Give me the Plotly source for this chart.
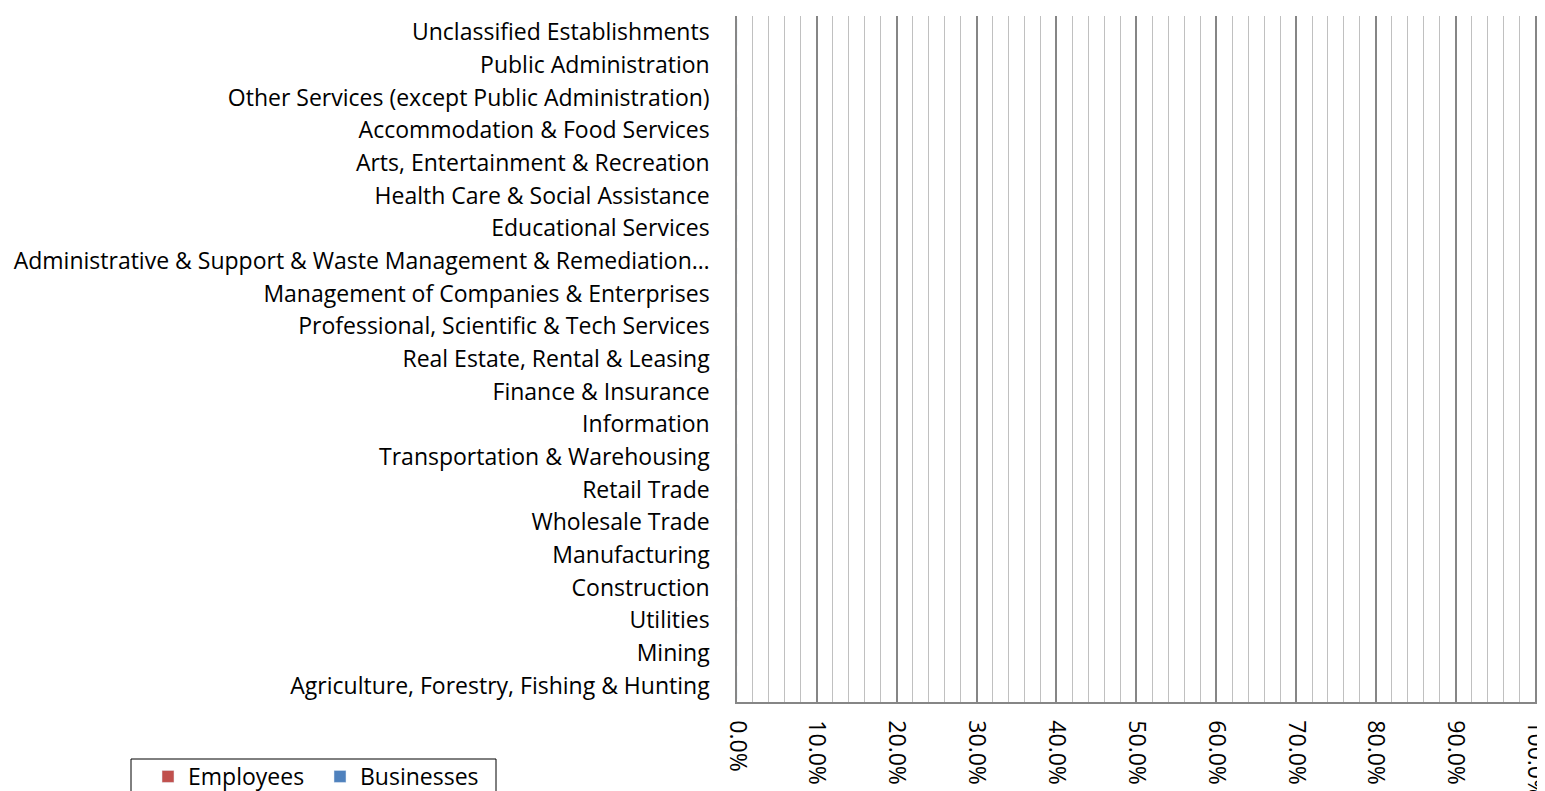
import plotly.graph_objects as go

categories = [
    "Agriculture, Forestry, Fishing & Hunting",
    "Mining",
    "Utilities",
    "Construction",
    "Manufacturing",
    "Wholesale Trade",
    "Retail Trade",
    "Transportation & Warehousing",
    "Information",
    "Finance & Insurance",
    "Real Estate, Rental & Leasing",
    "Professional, Scientific & Tech Services",
    "Management of Companies & Enterprises",
    "Administrative & Support & Waste Management & Remediation…",
    "Educational Services",
    "Health Care & Social Assistance",
    "Arts, Entertainment & Recreation",
    "Accommodation & Food Services",
    "Other Services (except Public Administration)",
    "Public Administration",
    "Unclassified Establishments",
]
employees = [0] * len(categories)
businesses = [0] * len(categories)

FONT = "Open Sans"
FS = 23

# page body has an 8px default margin, so the figure is sized 8px smaller
W, H = 1537, 783
L, R, T, B = 729, 7, 8, 89
plot_w = W - L - R
plot_h = H - T - B
bottom = H - B


def px_x(p):
    return (p - L) / plot_w


def px_y(p):
    return (bottom - p) / plot_h


fig = go.Figure()
fig.add_trace(go.Bar(y=categories, x=employees, name="Employees", orientation="h",
                     marker_color="#C0504D"))
fig.add_trace(go.Bar(y=categories, x=businesses, name="Businesses", orientation="h",
                     marker_color="#4F81BD"))

fig.update_layout(
    width=W, height=H,
    margin=dict(l=L, r=R, t=T, b=B, autoexpand=False),
    paper_bgcolor="white", plot_bgcolor="white",
    font=dict(family=FONT, size=FS, color="black"),
    barmode="group",
    showlegend=True,
    legend=dict(orientation="h", x=px_x(140), xanchor="left",
                y=px_y(747), yanchor="top",
                borderwidth=0, bgcolor="rgba(0,0,0,0)",
                entrywidth=127, entrywidthmode="pixels",
                traceorder="normal", font=dict(family=FONT, size=FS)),
    shapes=[dict(type="rect", xref="paper", yref="paper",
                 x0=px_x(123), x1=px_x(488), y0=px_y(751), y1=px_y(820),
                 line=dict(color="black", width=1), fillcolor="rgba(0,0,0,0)",
                 layer="below")],
    xaxis=dict(
        range=[0, 1.003], tickformat=".1%", dtick=0.1, tick0=0,
        tickangle=90, showgrid=True, gridcolor="#868686", gridwidth=1.5,
        zeroline=False, showline=True, linecolor="#868686", linewidth=1.5,
        ticks="", ticklabelstandoff=12, ticklabeloverflow="allow",
        minor=dict(dtick=0.02, showgrid=True, gridcolor="#C0C0C0", gridwidth=1.25),
        tickfont=dict(family=FONT, size=FS),
    ),
    yaxis=dict(
        categoryorder="array", categoryarray=categories,
        showgrid=False, zeroline=False, showline=True, linecolor="#868686",
        linewidth=1.5, ticks="", ticklabelstandoff=21,
        tickfont=dict(family=FONT, size=FS),
    ),
)
fig.write_html("out.html")
